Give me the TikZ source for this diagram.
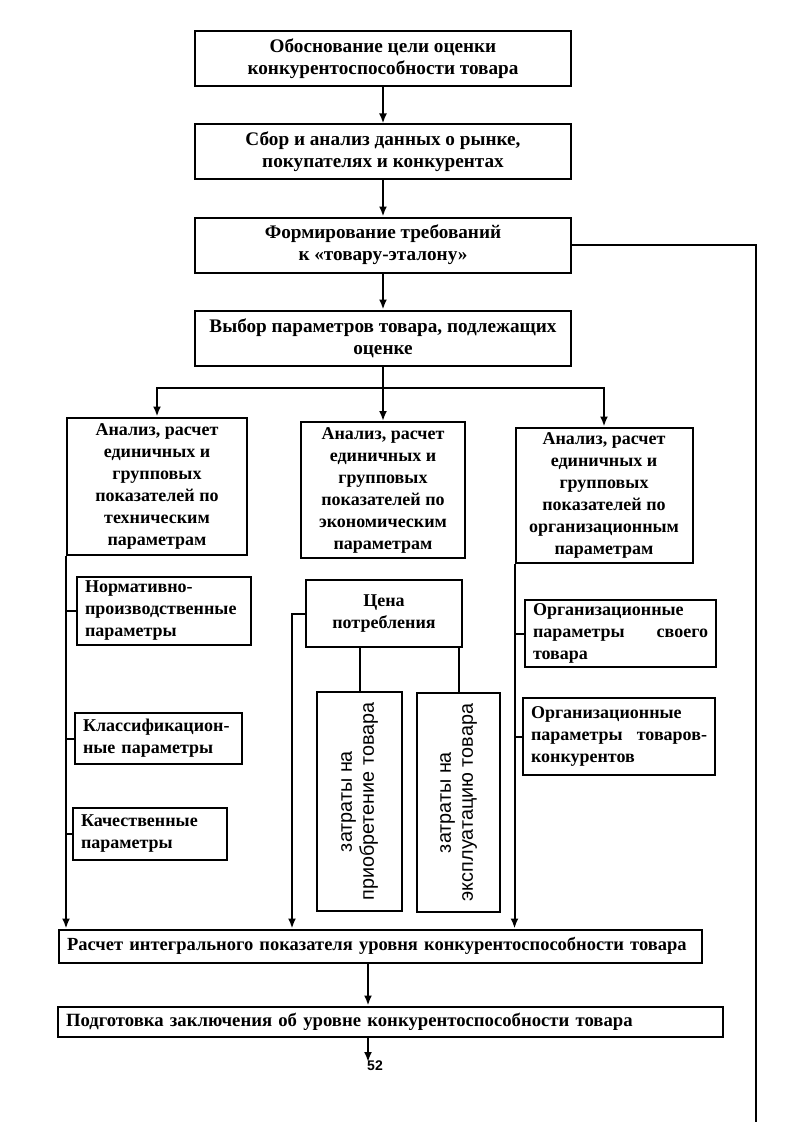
\documentclass[tikz,border=0pt]{standalone}
\usepackage{fontspec}
\setmainfont{Liberation Serif}
\setsansfont{Liberation Sans}
\usetikzlibrary{positioning,arrows.meta,calc}

\begin{document}
\begin{tikzpicture}[x=1pt, y=-1pt,
  box/.style={draw, line width=2pt, inner sep=2pt, font=\bfseries\fontsize{18}{22}\selectfont},
  stage/.style={box, align=center, minimum width=376pt, minimum height=55pt, font=\bfseries\fontsize{19.2}{22}\selectfont},
  group/.style={box, align=center},
  item/.style={box, align=left, inner xsep=8pt},
  cost/.style={box, rotate=90, align=center, font=\sffamily\fontsize{19.8}{22}\selectfont, minimum width=219pt},
  link/.style={line width=2pt},
  arrow/.style={link, -{Latex[length=10pt, width=8pt]}},
  node distance=36pt]
\path[fill=white, use as bounding box] (0,0) rectangle (791,1134);
\node[stage] (goal) at (383,59) {Обоснование цели оценки\\конкурентоспособности товара};
\node[stage, below=of goal] (data) {Сбор и анализ данных о рынке,\\покупателях и конкурентах};
\node[stage, below=of data] (ideal) {Формирование требований\\к «товару-эталону»};
\node[stage, below=of ideal] (select) {Выбор параметров товара, подлежащих\\оценке};
\node[group, minimum width=180pt, minimum height=137pt] (tech) at (157,486) {Анализ, расчет\\единичных и\\групповых\\показателей по\\техническим\\параметрам};
\node[group, minimum width=164pt, minimum height=136pt] (econ) at (383,490) {Анализ, расчет\\единичных и\\групповых\\показателей по\\экономическим\\параметрам};
\node[group, minimum width=177pt, minimum height=135pt] (org) at (604,495) {Анализ, расчет\\единичных и\\групповых\\показателей по\\организационным\\параметрам};
\node[item, text width=158pt, minimum height=68pt] (norm) at (164,611) {Нормативно-\\производственные\\параметры};
\node[item, text width=151pt, minimum height=51pt] (klass) at (158.5,738.5) {Классификацион-\\ные параметры};
\node[item, text width=138pt, minimum height=52pt] (qual) at (150,834) {Качественные\\параметры};
\node[group, minimum width=156pt, minimum height=67pt] (price) at (384,613.5) {Цена\\потребления};
\node[cost, minimum height=85pt] (buy) at (359.5,801.5) {затраты на\\приобретение товара};
\node[cost, minimum height=83pt] (use) at (458.5,802.5) {затраты на\\эксплуатацию товара};
\node[item, text width=175pt, minimum height=67pt] (own) at (620.5,633.5) {Организационные\\параметры\hfill своего\\товара};
\node[item, text width=176pt, minimum height=77pt] (rival) at (619,736.5) {Организационные\\параметры\hfill товаров-\\конкурентов};
\node[item, text width=627pt, minimum height=33pt, font=\bfseries\fontsize{18.5}{22}\selectfont] (calc) at (380.5,946) {\mbox{Расчет интегрального показателя уровня конкурентоспособности товара}};
\node[item, text width=649pt, minimum height=30pt, font=\bfseries\fontsize{18.7}{22}\selectfont] (prep) at (390.5,1021.5) {\mbox{Подготовка заключения об уровне конкурентоспособности товара}};
\node[font=\sffamily\bfseries\fontsize{14}{14}\selectfont] (page) at (375,1066) {52};
\foreach \a/\b in {goal/data,data/ideal,ideal/select}
  \draw[arrow] (\a) -- (\b);
\coordinate (fork) at (383,388);
\draw[arrow] (select) -- (econ);
\draw[arrow] (fork) -| (tech);
\draw[arrow] (fork) -| (org);
\draw[arrow] (tech.south west) -- (tech.south west |- calc.north);
\foreach \n in {norm,klass,qual}
  \draw[link] (tech.south west |- \n.west) -- (\n.west);
\draw[arrow] (price.west) -- ++(-13,0) coordinate (bend) -- (bend |- calc.north);
\draw[link] (price.south -| buy.east) -- (buy.east);
\draw[link] (price.south -| use.east) -- (use.east);
\draw[arrow] (org.south west) -- (org.south west |- calc.north);
\foreach \n in {own,rival}
  \draw[link] (org.south west |- \n.west) -- (\n.west);
\coordinate (out) at (368,1062);
\draw[arrow] (calc.south -| out) -- (prep.north -| out);
\draw[arrow] (prep.south -| out) -- (out);
\coordinate (tail) at (756,1122);
\draw[link] (ideal.east) -| (tail);
\end{tikzpicture}
\end{document}
